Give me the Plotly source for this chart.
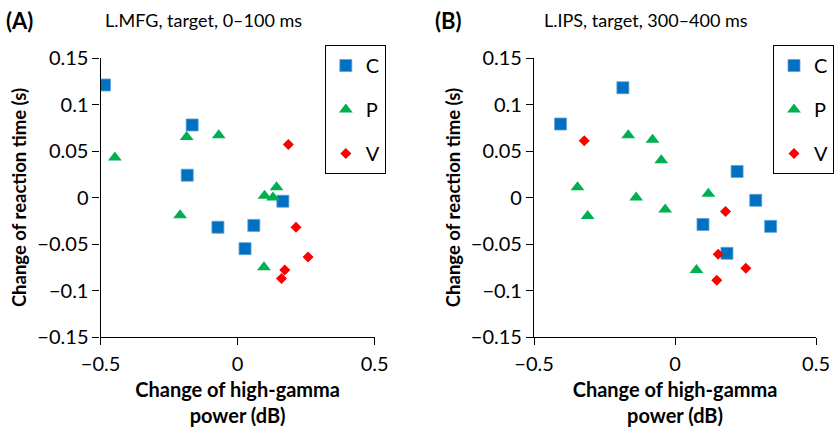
import plotly.graph_objects as go

W, H = 834, 427

# Panel A: L.MFG, target, 0-100 ms
a_c_x = [-0.486, -0.166, -0.184, -0.072, 0.059, 0.027, 0.165]
a_c_y = [0.121, 0.078, 0.024, -0.032, -0.030, -0.055, -0.004]
a_p_x = [-0.448, -0.186, -0.069, 0.098, 0.129, 0.142, -0.210, 0.096]
a_p_y = [0.043, 0.065, 0.067, 0.002, 0.000, 0.011, -0.019, -0.075]
a_v_x = [0.185, 0.213, 0.257, 0.172, 0.160]
a_v_y = [0.057, -0.032, -0.064, -0.078, -0.087]

# Panel B: L.IPS, target, 300-400 ms
b_c_x = [-0.406, -0.185, 0.220, 0.286, 0.099, 0.339, 0.184]
b_c_y = [0.079, 0.118, 0.028, -0.003, -0.029, -0.031, -0.060]
b_p_x = [-0.166, -0.080, -0.049, -0.346, -0.138, 0.118, -0.035, -0.310, 0.076]
b_p_y = [0.067, 0.062, 0.040, 0.011, 0.000, 0.004, -0.013, -0.020, -0.078]
b_v_x = [-0.322, 0.179, 0.153, 0.251, 0.148]
b_v_y = [0.061, -0.015, -0.061, -0.076, -0.089]

groups = ["C", "P", "V"]
colors = {"C": "#0070C0", "P": "#00B050", "V": "#FF0000"}
symbols = {"C": "square", "P": "triangle-up", "V": "diamond"}
sizes = {"C": 12, "P": 12, "V": 8.5}
line_colors = {"C": "#5FA0DA", "P": "#00B050", "V": "#FF0000"}

FONT = "Lato"

fig = go.Figure()

panels = [
    ("x", "y", "legend", {"C": (a_c_x, a_c_y), "P": (a_p_x, a_p_y), "V": (a_v_x, a_v_y)}),
    ("x2", "y2", "legend2", {"C": (b_c_x, b_c_y), "P": (b_p_x, b_p_y), "V": (b_v_x, b_v_y)}),
]
for xa, ya, leg, data in panels:
    for g in groups:
        xs, ys = data[g]
        fig.add_trace(go.Scatter(
            x=xs, y=ys, mode="markers", name=g, xaxis=xa, yaxis=ya,
            legend=leg, legendgroup=leg + g,
            marker=dict(symbol=symbols[g], size=sizes[g], color=colors[g],
                        line=dict(width=0.8 if g == "C" else 0, color=line_colors[g])),
            hoverinfo="skip",
        ))

def px_x(p):
    return p / W

def px_y(p):
    return (H - p) / H

ydom = [px_y(337), px_y(58)]

axis_common = dict(
    showgrid=False, zeroline=False, showline=True, linecolor="black", linewidth=1.3,
    ticks="outside", ticklen=7, tickwidth=1.3, tickcolor="black",
    tickfont=dict(family=FONT, size=20, color="black"),
    automargin=False,
)

xtitle_font = dict(family=FONT, size=20, color="black", weight="bold")
ytitle_font = dict(family=FONT, size=18.5, color="black", weight="bold")

xtitle = dict(text="<b>Change of high-gamma<br>power (dB)</b>", font=xtitle_font, standoff=12)
ytitle = dict(text="<b>Change of reaction time (s)</b>", font=ytitle_font, standoff=5)

legend_common = dict(
    xanchor="left", yanchor="top",
    bordercolor="black", borderwidth=1, bgcolor="white",
    font=dict(family=FONT, size=20, color="black"),
    tracegroupgap=15, traceorder="grouped", itemwidth=30,
)

fig.update_layout(
    width=W, height=H,
    margin=dict(l=0, r=0, t=0, b=0),
    plot_bgcolor="white", paper_bgcolor="white",
    showlegend=True,
    xaxis=dict(domain=[px_x(101), px_x(376)], range=[-0.5, 0.5], dtick=0.5, tick0=0,
               anchor="y", title=xtitle, ticklabelstandoff=2, **axis_common),
    yaxis=dict(domain=ydom, range=[-0.15, 0.15], dtick=0.05, tick0=0,
               anchor="x", title=ytitle, **axis_common),
    xaxis2=dict(domain=[px_x(536), px_x(819)], range=[-0.5, 0.5], dtick=0.5, tick0=0,
                anchor="y2", title=xtitle, ticklabelstandoff=2, **axis_common),
    yaxis2=dict(domain=ydom, range=[-0.15, 0.15], dtick=0.05, tick0=0,
                anchor="x2", title=ytitle, **axis_common),
    legend=dict(x=px_x(326), y=px_y(45), **legend_common),
    legend2=dict(x=px_x(776), y=px_y(45), **legend_common),
)

annots = [
    dict(text="<b>(A)</b>", x=px_x(4), y=px_y(20), xanchor="left", yanchor="middle",
         font=dict(family=FONT, size=22, color="black")),
    dict(text="L.MFG, target, 0–100 ms", x=px_x(204), y=px_y(20), xanchor="center", yanchor="middle",
         font=dict(family=FONT, size=18, color="black")),
    dict(text="<b>(B)</b>", x=px_x(435), y=px_y(20), xanchor="left", yanchor="middle",
         font=dict(family=FONT, size=22, color="black")),
    dict(text="L.IPS, target, 300–400 ms", x=px_x(648), y=px_y(20), xanchor="center", yanchor="middle",
         font=dict(family=FONT, size=18, color="black")),
]
for a in annots:
    a.update(xref="paper", yref="paper", showarrow=False)
fig.update_layout(annotations=annots)

fig.write_html(
    "out.html",
    config={"displayModeBar": False},
    post_script="document.body.style.margin='0';document.body.style.overflow='hidden';",
)
